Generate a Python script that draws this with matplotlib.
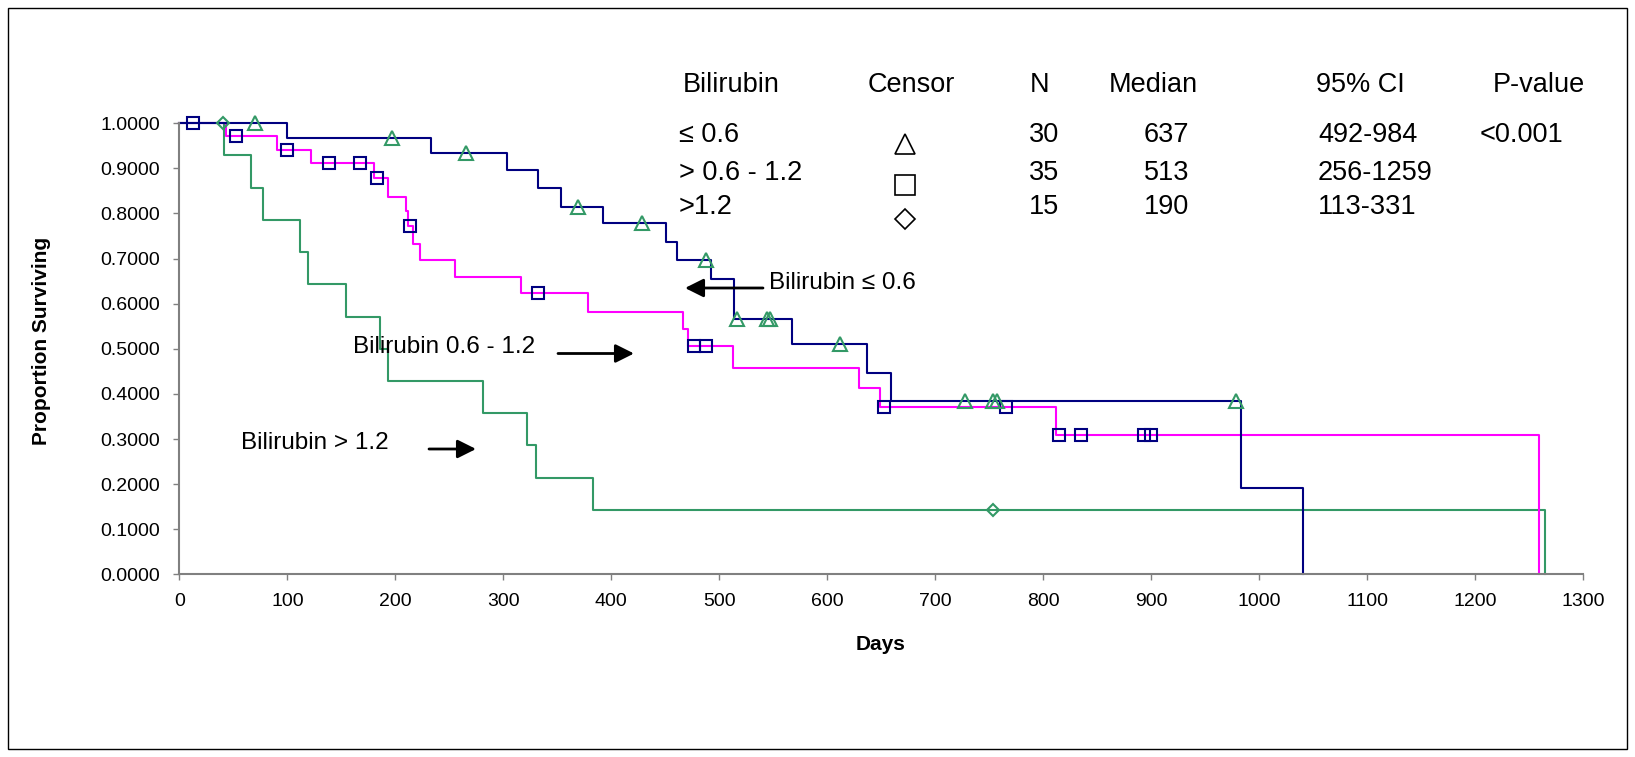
"""
Curvas de supervivencia Kaplan-Meier por nivel de bilirrubina.
Valores leidos a ojo del grafico original (estilo Excel).
"""

import numpy as np
import matplotlib
matplotlib.use("Agg")
import matplotlib.pyplot as plt
from matplotlib.lines import Line2D
from matplotlib.patches import Rectangle

plt.rcParams['font.family'] = ['Liberation Sans', 'DejaVu Sans']

# ---------------------------
# Datos
dias_ticks = list(range(0, 1301, 100))
prop_ticks = [0.0, 0.1, 0.2, 0.3, 0.4, 0.5, 0.6, 0.7, 0.8, 0.9, 1.0]

# Bilirrubina <= 0.6  (linea azul, censuras triangulo)
t_bajo = [0, 100, 233, 303, 332, 353, 392, 451, 461, 492, 514, 567, 637, 659, 983, 1041]
s_bajo = [1.0, 0.9667, 0.9333, 0.8975, 0.856, 0.815, 0.778, 0.737, 0.697, 0.655,
          0.567, 0.510, 0.447, 0.384, 0.192, 0.0]
cens_bajo = [70, 197, 265, 369, 428, 488, 516, 544, 547, 612, 728, 754, 757, 979]

# Bilirrubina 0.6 - 1.2  (linea magenta, censuras cuadrado)
t_medio = [0, 43, 90, 122, 180, 193.5, 209.5, 212, 216.5, 223, 255, 316, 378, 466, 471,
           513, 629, 649, 812, 1259]
s_medio = [1.0, 0.971, 0.941, 0.911, 0.878, 0.837, 0.805, 0.773, 0.732, 0.697, 0.660,
           0.624, 0.582, 0.544, 0.507, 0.458, 0.412, 0.370, 0.309, 0.0]
cens_medio = [13, 52, 100, 139, 167, 183, 214, 332, 477, 488, 653, 766, 815, 835, 893, 900]

# Bilirrubina > 1.2  (linea verde, censuras rombo)
t_alto = [0, 41, 66, 77, 112, 119, 154, 186, 193.5, 281, 322, 330, 383, 1265]
s_alto = [1.0, 0.929, 0.857, 0.786, 0.714, 0.643, 0.571, 0.5, 0.429, 0.357, 0.286,
          0.214, 0.143, 0.0]
cens_alto = [40, 754]

# Tabla resumen
tabla_cab = ["Bilirubin", "Censor", "N", "Median", "95% CI", "P-value"]
tabla_grupo = ["\u2264 0.6", "> 0.6 - 1.2", ">1.2"]
tabla_n = ["30", "35", "15"]
tabla_mediana = ["637", "513", "190"]
tabla_ic = ["492-984", "256-1259", "113-331"]
tabla_p = ["<0.001", "", ""]

AZUL = "#000080"
MAGENTA = "#FF00FF"
VERDE = "#339966"
GRIS = "#808080"

W, H = 1635, 757


def px(x, y):
    """Pixeles de la figura -> fraccion de figura."""
    return x / W, 1 - y / H


def valor_en(t_pasos, s_pasos, t):
    """Valor de la curva escalonada en el tiempo t."""
    i = np.searchsorted(t_pasos, t, side='right') - 1
    return s_pasos[i]


fig = plt.figure(figsize=(W / 100, H / 100), dpi=100)
x0, y0 = px(179.4, 574.3)
x1, y1 = px(1583, 123.3)
ax = fig.add_axes([x0, y0, x1 - x0, y1 - y0])

curvas = [
    (t_alto, s_alto, cens_alto, VERDE, dict(marker='D', ms=6.5, mec=VERDE)),
    (t_medio, s_medio, cens_medio, MAGENTA, dict(marker='s', ms=8, mec=AZUL)),
    (t_bajo, s_bajo, cens_bajo, AZUL, dict(marker='^', ms=9.5, mec=VERDE)),
]
for t, s, cens, color, estilo in curvas:
    ax.plot(t, s, drawstyle='steps-post', color=color, lw=1.5, clip_on=False, zorder=2)
for t, s, cens, color, estilo in curvas:
    yc = [valor_en(t, s, c) for c in cens]
    ax.plot(cens, yc, ls='none', mfc='none', mew=1.5, clip_on=False, zorder=3, **estilo)

ax.set_xlim(0, 1300)
ax.set_ylim(0, 1.0)
ax.set_xticks(dias_ticks)
ax.set_yticks(prop_ticks)
ax.set_yticklabels([f"{v:.4f}" for v in prop_ticks])
for lado in ['top', 'right']:
    ax.spines[lado].set_visible(False)
for lado in ['left', 'bottom']:
    ax.spines[lado].set_color(GRIS)
    ax.spines[lado].set_linewidth(1.5)
ax.tick_params(axis='both', direction='out', length=4, width=1, color=GRIS,
               labelsize=14, labelcolor='black')
ax.tick_params(axis='y', pad=10)
ax.tick_params(axis='x', pad=9.5)

fig.text(*px(881, 645), "Days", fontsize=15, fontweight='bold', ha='center', va='center')
fig.text(*px(41.7, 341), "Proportion Surviving", fontsize=15, fontweight='bold',
         rotation=90, ha='center', va='center')

# Tabla de la esquina superior derecha
cab_x = [683, 867.5, 1039.6, 1109, 1316, 1493]
for texto, xx in zip(tabla_cab, cab_x):
    ha = 'center' if texto == "N" else 'left'
    fig.text(*px(xx, 85.5), texto, fontsize=19.5, ha=ha, va='center')
filas_y = [134.5, 173, 207.5]
for i, yy in enumerate(filas_y):
    fig.text(*px(679, yy), tabla_grupo[i], fontsize=19.5, ha='left', va='center')
    fig.text(*px(1029, yy), tabla_n[i], fontsize=19.5, ha='left', va='center')
    fig.text(*px(1144, yy), tabla_mediana[i], fontsize=19.5, ha='left', va='center')
    fig.text(*px(1318, yy), tabla_ic[i], fontsize=19.5, ha='left', va='center')
    fig.text(*px(1480, yy), tabla_p[i], fontsize=19.5, ha='left', va='center')

simbolos = [('^', 15, 144), ('s', 14, 184.5), ('D', 10, 219)]
for marca, tam, yy in simbolos:
    xs, ys = px(905, yy)
    fig.add_artist(Line2D([xs], [ys], marker=marca, ms=tam, mfc='none', mec='black',
                          mew=1.2, transform=fig.transFigure))

# Etiquetas con flecha
etiquetas = [
    ("Bilirubin \u2264 0.6", (769, 283), (763, 288), (685, 288)),
    ("Bilirubin 0.6 - 1.2", (352.7, 347), (558, 353.5), (634, 353.5)),
    ("Bilirubin > 1.2", (240.7, 443.3), (429, 449), (476, 449)),
]
for texto, pos, ini, fin in etiquetas:
    fig.text(*px(*pos), texto, fontsize=17.5, ha='left', va='center')
    ax.annotate("", xy=px(*fin), xycoords='figure fraction',
                xytext=px(*ini), textcoords='figure fraction',
                arrowprops=dict(arrowstyle='-|>', color='black', lw=2,
                                mutation_scale=28, shrinkA=0, shrinkB=0))

# Marco exterior del grafico
bx0, by0 = px(8.3, 748.7)
bx1, by1 = px(1626.6, 8.3)
fig.add_artist(Rectangle((bx0, by0), bx1 - bx0, by1 - by0, fill=False, ec='black',
                         lw=1, transform=fig.transFigure))

fig.savefig("out.png", dpi=100)
